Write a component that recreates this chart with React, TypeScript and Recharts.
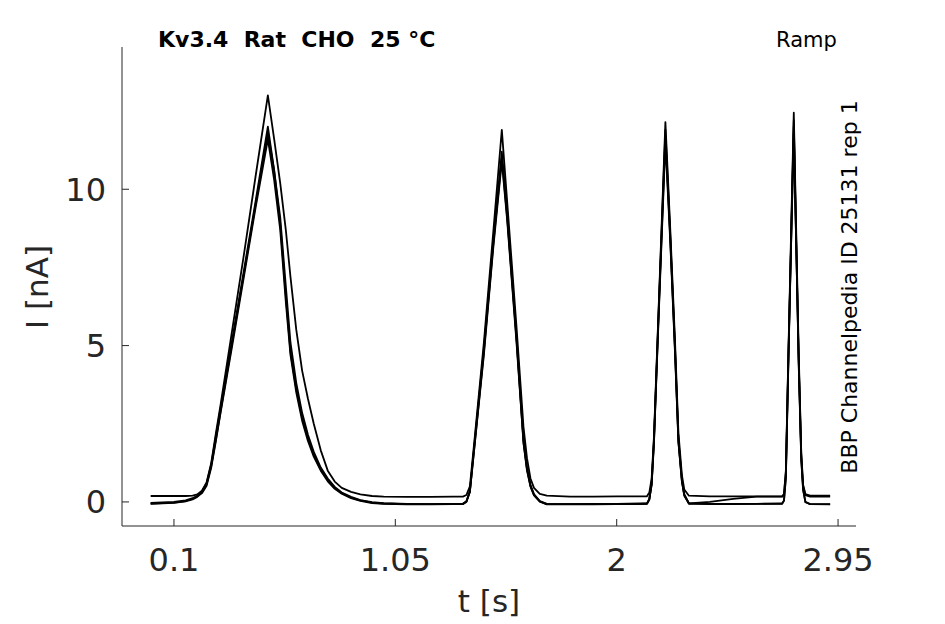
import { LineChart, Line, XAxis, YAxis } from "recharts";

// sample times [s]
const timeS = [
  0, 0.1, 0.15, 0.18, 0.2, 0.22, 0.24, 0.26, 0.28, 0.3,
  0.35, 0.4, 0.45, 0.503, 0.53, 0.556, 0.58, 0.6, 0.625, 0.65,
  0.675, 0.7, 0.73, 0.76, 0.79, 0.82, 0.86, 0.9, 0.95, 1.0,
  1.1, 1.2, 1.3, 1.34, 1.355, 1.37, 1.39, 1.43, 1.47, 1.507,
  1.53, 1.57, 1.6, 1.615, 1.63, 1.645, 1.67, 1.7, 1.8, 1.9,
  2.0, 2.1, 2.13, 2.14, 2.15, 2.16, 2.18, 2.209, 2.23, 2.25,
  2.265, 2.28, 2.29, 2.31, 2.4, 2.5, 2.6, 2.7, 2.71, 2.718,
  2.726, 2.737, 2.76, 2.781, 2.792, 2.8, 2.81, 2.83, 2.916,
];

// current traces [nA], one per repetition
const traceA = [
  0.19, 0.19, 0.19, 0.2, 0.24, 0.36, 0.62, 1.25, 2.2, 3.1,
  5.5, 7.9, 10.4, 13.0, 11.6, 10.2, 8.7, 7.2, 5.5, 4.2,
  3.3, 2.5, 1.65, 1.0, 0.65, 0.45, 0.32, 0.24, 0.19, 0.17,
  0.16, 0.16, 0.17, 0.17, 0.22, 0.5, 2.0, 5.1, 8.6, 11.9,
  9.6, 5.6, 2.4, 1.4, 0.75, 0.45, 0.26, 0.2, 0.17, 0.17,
  0.18, 0.18, 0.18, 0.3, 0.75, 2.1, 6.2, 12.15, 8.7, 5.2,
  2.2, 0.85, 0.4, 0.2, 0.18, 0.18, 0.18, 0.18, 0.18, 0.25,
  1.0, 4.8, 12.45, 4.8, 1.6, 0.55, 0.25, 0.2, 0.2,
];
const traceB = [
  -0.03, 0.0, 0.05, 0.12, 0.2, 0.33, 0.6, 1.2, 2.1, 3.0,
  5.2, 7.4, 9.6, 12.0, 10.6, 8.9, 6.6, 4.8, 3.6, 2.7,
  2.05, 1.5, 1.05, 0.7, 0.45, 0.28, 0.14, 0.05, -0.02, -0.05,
  -0.07, -0.07, -0.06, -0.06, 0.02, 0.35, 1.9, 4.9, 8.3, 11.2,
  9.2, 5.3, 2.0, 1.1, 0.55, 0.25, 0.03, -0.06, -0.07, -0.07,
  -0.06, -0.06, -0.05, 0.1, 0.6, 2.0, 6.1, 11.9, 8.5, 5.0,
  2.0, 0.7, 0.25, -0.05, -0.07, -0.07, -0.06, -0.06, -0.06, 0.05,
  0.8, 4.6, 12.2, 4.5, 1.4, 0.4, 0.0, -0.07, -0.08,
];
const traceC = [
  -0.05, -0.02, 0.03, 0.1, 0.18, 0.3, 0.56, 1.15, 2.0, 2.9,
  5.1, 7.3, 9.5, 11.8, 10.6, 9.1, 6.9, 5.1, 3.8, 2.85,
  2.15, 1.6, 1.1, 0.75, 0.48, 0.3, 0.16, 0.06, -0.01, -0.04,
  -0.06, -0.07, -0.06, -0.06, 0.01, 0.33, 1.8, 4.8, 8.2, 11.0,
  9.1, 5.2, 1.9, 1.05, 0.5, 0.22, 0.02, -0.07, -0.07, -0.06,
  -0.06, -0.05, -0.05, 0.08, 0.55, 1.9, 6.0, 11.7, 8.4, 4.9,
  1.9, 0.65, 0.22, -0.05, -0.06, -0.06, -0.06, -0.05, -0.05, 0.04,
  0.75, 4.5, 12.0, 4.4, 1.35, 0.38, -0.01, -0.07, -0.07,
];
const traceD = [
  -0.06, -0.03, 0.02, 0.08, 0.16, 0.28, 0.52, 1.1, 1.95, 2.85,
  5.0, 7.2, 9.4, 11.6, 10.3, 8.7, 6.4, 4.7, 3.5, 2.6,
  1.95, 1.45, 1.0, 0.66, 0.42, 0.26, 0.12, 0.03, -0.04, -0.06,
  -0.08, -0.08, -0.07, -0.07, 0.0, 0.32, 1.8, 4.7, 8.1, 10.9,
  9.0, 5.1, 1.9, 1.0, 0.5, 0.22, 0.01, -0.08, -0.08, -0.08,
  -0.07, -0.07, -0.06, 0.07, 0.55, 1.9, 5.9, 11.5, 8.3, 4.8,
  1.9, 0.65, 0.2, -0.05, 0.0, 0.1, 0.17, 0.17, 0.17, 0.24,
  0.95, 4.7, 11.8, 4.6, 1.5, 0.5, 0.22, 0.17, 0.17,
];

const xTicks = [0.1, 1.05, 2, 2.95];
const yTicks = [0, 5, 10];

const data = timeS.map((t, i) => ({
  t,
  a: traceA[i],
  b: traceB[i],
  c: traceC[i],
  d: traceD[i],
}));

const W = 945;
const H = 624;
const axisColor = "#262626";
const font = "'DejaVu Sans', sans-serif";

export default function App() {
  return (
    <div
      style={{
        position: "fixed",
        left: 0,
        top: 0,
        width: W,
        height: H,
        background: "#fff",
        fontFamily: font,
      }}
    >
      <LineChart
        width={W}
        height={H}
        data={data}
        margin={{ top: 47, right: 89, left: 0, bottom: 0 }}
      >
        <XAxis
          dataKey="t"
          type="number"
          domain={[-0.123, 3.027]}
          ticks={xTicks}
          allowDataOverflow
          height={98}
          tickSize={-7}
          tickMargin={29}
          stroke={axisColor}
          tick={{ fill: axisColor, fontSize: 32, fontFamily: font }}
        />
        <YAxis
          type="number"
          domain={[-0.77, 14.55]}
          ticks={yTicks}
          allowDataOverflow
          width={122}
          tickSize={-7}
          tickMargin={23}
          stroke={axisColor}
          tick={{ fill: axisColor, fontSize: 32, fontFamily: font }}
        />
        {["a", "b", "c", "d"].map((k) => (
          <Line
            key={k}
            dataKey={k}
            type="linear"
            stroke="#000"
            strokeWidth={1.8}
            strokeLinejoin="round"
            dot={false}
            isAnimationActive={false}
          />
        ))}
      </LineChart>
      <svg
        width={W}
        height={H}
        style={{ position: "absolute", left: 0, top: 0, pointerEvents: "none" }}
        fontFamily={font}
      >
        <text
          x={158}
          y={47}
          fontSize={22}
          fontWeight="bold"
          fill="#000"
          style={{ whiteSpace: "pre" }}
        >
          {"Kv3.4  Rat  CHO  25 °C"}
        </text>
        <text x={776} y={47} fontSize={21} fill="#000">
          Ramp
        </text>
        <text
          x={857}
          y={287}
          fontSize={22}
          fill="#000"
          textAnchor="middle"
          transform="rotate(-90 857 287)"
        >
          BBP Channelpedia ID 25131 rep 1
        </text>
        <text
          x={48}
          y={287}
          fontSize={31}
          fill={axisColor}
          textAnchor="middle"
          transform="rotate(-90 48 287)"
        >
          I [nA]
        </text>
        <text x={489} y={612} fontSize={31} fill={axisColor} textAnchor="middle">
          t [s]
        </text>
      </svg>
    </div>
  );
}
